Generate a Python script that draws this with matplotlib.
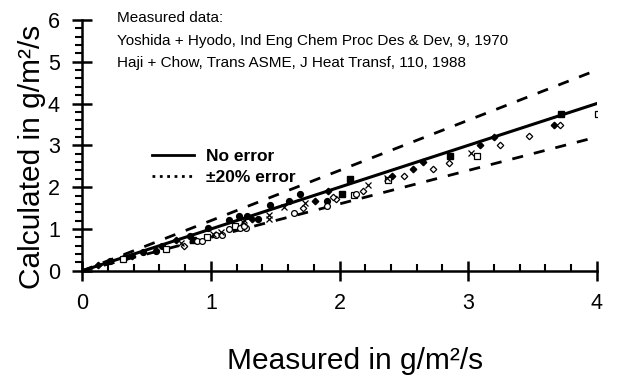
import numpy as np
import matplotlib.pyplot as plt
from matplotlib.lines import Line2D
from matplotlib.ticker import MultipleLocator

plt.rcParams['font.family'] = ['Liberation Sans', 'DejaVu Sans']

# measured vs calculated, grouped by marker type
filled_circle_x = [0.22, 0.33, 0.47, 0.57, 0.62, 0.84, 0.98, 1.14, 1.28, 1.22, 1.46, 1.69, 1.61, 1.90, 1.37]
filled_circle_y = [0.23, 0.33, 0.45, 0.48, 0.60, 0.84, 1.03, 1.21, 1.31, 1.31, 1.58, 1.84, 1.66, 1.67, 1.25]
filled_square_x = [2.08, 2.02, 2.86, 3.72, 0.86]
filled_square_y = [2.19, 1.84, 2.74, 3.76, 0.74]
filled_diamond_x = [0.12, 0.39, 0.73, 1.32, 1.91, 2.41, 2.57, 2.65, 3.09, 3.20, 3.67, 1.81]
filled_diamond_y = [0.13, 0.36, 0.74, 1.23, 1.92, 2.27, 2.43, 2.60, 3.01, 3.21, 3.49, 1.67]
open_diamond_x = [0.79, 1.72, 1.97, 2.18, 2.50, 2.73, 2.85, 3.25, 3.47, 3.71, 1.95]
open_diamond_y = [0.60, 1.50, 1.71, 1.92, 2.27, 2.44, 2.59, 3.00, 3.22, 3.48, 1.76]
open_square_x = [0.32, 0.65, 0.97, 1.19, 2.11, 2.38, 3.07, 4.01]
open_square_y = [0.28, 0.53, 0.81, 1.06, 1.81, 2.18, 2.74, 3.74]
open_circle_x = [0.89, 0.93, 1.04, 1.09, 1.14, 1.23, 1.27, 1.26, 1.65, 1.90, 2.13]
open_circle_y = [0.72, 0.72, 0.85, 0.85, 0.99, 1.03, 1.03, 1.07, 1.38, 1.56, 1.84]
cross_x = [0.77, 1.02, 1.08, 1.25, 1.26, 1.45, 1.45, 1.57, 1.73, 2.22, 2.37, 3.02]
cross_y = [0.67, 0.88, 0.92, 1.17, 1.21, 1.34, 1.23, 1.52, 1.63, 2.05, 2.23, 2.81]

line_x = [0, 4]
error = 0.2

fig = plt.figure(figsize=(6.37, 3.82), dpi=100)
ax = fig.add_axes([0.129, 0.291, 0.808, 0.657])

ax.plot(line_x, line_x, color='black', lw=2.2)
ax.plot(line_x, [v * (1 + error) for v in line_x], color='black', lw=2, dashes=(4, 4))
ax.plot(line_x, [v * (1 - error) for v in line_x], color='black', lw=2, dashes=(4, 4))

ax.plot(filled_circle_x, filled_circle_y, 'o', ms=4.2, color='black', ls='none')
ax.plot(filled_square_x, filled_square_y, 's', ms=4.2, color='black', ls='none')
ax.plot(filled_diamond_x, filled_diamond_y, 'D', ms=3.3, color='black', ls='none')
ax.plot(open_diamond_x, open_diamond_y, 'D', ms=3.3, mfc='white', mec='black', mew=0.9, ls='none')
ax.plot(open_square_x, open_square_y, 's', ms=4.2, mfc='white', mec='black', mew=0.9, ls='none')
ax.plot(open_circle_x, open_circle_y, 'o', ms=4.2, mfc='white', mec='black', mew=0.9, ls='none')
ax.plot(cross_x, cross_y, 'x', ms=4.8, color='black', mew=0.9, ls='none')

ax.set_xlim(0, 4)
ax.set_ylim(0, 6)
ax.spines['top'].set_visible(False)
ax.spines['right'].set_visible(False)
ax.spines['left'].set_linewidth(1.8)
ax.spines['bottom'].set_linewidth(1.8)
ax.xaxis.set_major_locator(MultipleLocator(1))
ax.xaxis.set_minor_locator(MultipleLocator(0.2))
ax.yaxis.set_major_locator(MultipleLocator(1))
ax.yaxis.set_minor_locator(MultipleLocator(0.2))
ax.tick_params(axis='x', which='major', direction='inout', length=14, width=1.8, labelsize=15.5, pad=9)
ax.tick_params(axis='x', which='minor', direction='in', length=5, width=1.5)
ax.tick_params(axis='y', which='major', direction='inout', length=14, width=1.8, labelsize=15.5, pad=9)
ax.tick_params(axis='y', which='minor', direction='out', length=5, width=1.5)

ax.set_xlabel('Measured in g/m²/s', fontsize=21.5, labelpad=24)
ax.set_ylabel('Calculated in g/m²/s', fontsize=21.5, labelpad=1)
ax.xaxis.label.set_x(0.53)
ax.yaxis.label.set_y(0.455)

ax.text(0.27, 6.2, 'Measured data:\nYoshida + Hyodo, Ind Eng Chem Proc Des & Dev, 9, 1970\n'
        'Haji + Chow, Trans ASME, J Heat Transf, 110, 1988',
        fontsize=11, va='top', ha='left', linespacing=1.75, clip_on=False)

handles = [Line2D([], [], color='black', lw=2),
           Line2D([], [], color='black', lw=2, ls=':')]
ax.legend(handles, ['No error', '±20% error'], loc='center left', bbox_to_anchor=(0.105, 0.415),
          frameon=False, prop={'weight': 'bold', 'size': 12.5}, handlelength=2.4,
          handletextpad=0.7, labelspacing=0.35)

fig.savefig('out.png', dpi=100)
